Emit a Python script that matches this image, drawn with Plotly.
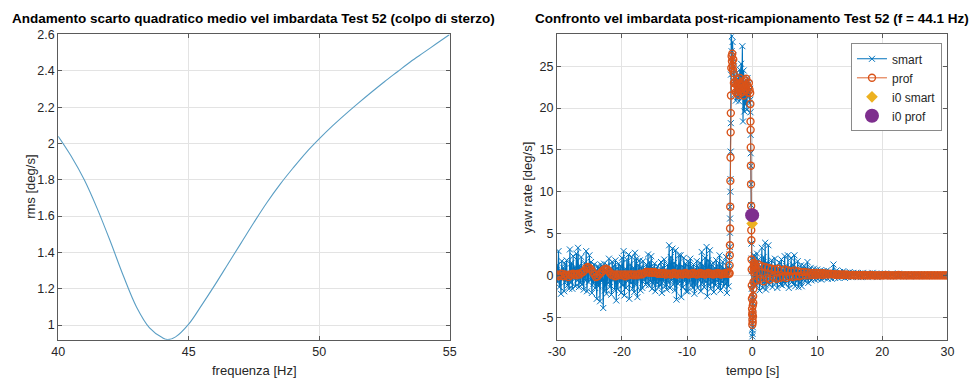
import numpy as np
import plotly.graph_objects as go

# ---------------- left plot data ----------------
freq_hz = [40, 40.5, 41, 41.5, 42, 42.5, 43, 43.5, 44, 44.2, 44.5, 45, 45.5, 46, 46.5,
           47, 47.5, 48, 48.5, 49, 49.5, 50, 50.5, 51, 51.5, 52, 52.5, 53, 53.5, 54, 54.5, 55]
rms_val = [2.04, 1.93, 1.80, 1.64, 1.46, 1.27, 1.10, 0.985, 0.93, 0.92, 0.935, 1.005, 1.11,
           1.22, 1.335, 1.45, 1.565, 1.675, 1.775, 1.865, 1.95, 2.025, 2.095, 2.16, 2.222, 2.282,
           2.34, 2.395, 2.45, 2.50, 2.55, 2.60]

# ---------------- right plot data ----------------
# smart, segment A: t = -30 ... -3.5 (step 0.125 s)
smartA_start, smartA_step = -30.0, 0.125
smart_A = [1.2, -0.8, 2.9, -1.4, 0.6, -2.2, 1.7, -0.5,
           0.9, -1.9, 1.4, -0.7, 1.8, -1.2, 0.4, -1.6,
           3.1, -0.9, 1.5, -1.6, 2.3, -0.4, 1.0, -1.3,
           2.6, -0.6, 3.3, -1.4, 1.2, -0.9, 2.2, -1.1,
           0.8, -1.7, 1.5, -0.6, 2.9, -1.9, 1.1, -0.8,
           2.4, -0.5, 1.6, -2.1, 0.7, -1.0, 1.3, -1.5,
           0.6, -2.8, 1.1, -1.3, 0.9, -3.1, 1.3, -0.7,
           0.7, -3.9, 1.4, -1.8, 0.5, -2.2, 1.2, -0.9,
           2.0, -1.4, 0.8, -2.3, 1.6, -0.6, 1.1, -1.7,
           1.8, -3.0, 0.9, -1.6, 1.4, -0.8, 1.1, -2.1,
           2.1, -1.2, 2.9, -2.4, 0.8, -1.5, 1.9, -0.7,
           2.5, -2.8, 1.3, -0.9, 2.2, -1.6, 0.9, -2.0,
           2.7, -1.1, 2.0, -2.6, 1.2, -0.5, 1.8, -1.8,
           1.0, -1.5, 1.7, -0.6, 0.8, -1.1, 1.3, -0.9,
           2.5, -1.2, 1.6, -0.7, 2.3, -1.6, 0.9, -1.0,
           1.4, -1.9, 0.8, -0.9, 1.1, -1.4, 0.6, -1.2,
           1.6, -2.1, 1.0, -0.7, 1.9, -1.3, 0.7, -1.7,
           1.3, -0.8, 3.6, -1.5, 2.2, -0.6, 3.2, -1.1,
           1.5, -1.8, 3.0, -2.9, 1.2, -1.0, 2.4, -0.8,
           2.4, -2.6, 1.1, -1.4, 2.1, -0.7, 1.4, -1.9,
           1.2, -1.9, 1.6, -0.8, 2.0, -1.2, 0.9, -1.5,
           1.3, -2.2, 0.8, -1.1, 1.7, -1.5, 1.0, -0.6,
           1.5, -1.9, 2.8, -0.9, 1.2, -1.4, 2.1, -0.8,
           3.4, -2.5, 1.8, -1.1, 3.0, -1.6, 1.3, -0.9,
           1.5, -2.0, 0.9, -1.2, 1.8, -0.7, 1.2, -1.4,
           2.4, -1.8, 1.1, -0.8, 1.6, -1.3, 0.8, -1.0,
           2.2, -2.1, 1.0, -1.3, 1.5]
# prof, segment A: t = -30 ... -3.5 (step 0.25 s)
profA_start, profA_step = -30.0, 0.25
prof_A = [0.1, -0.1, 0.0, 0.2, -0.1, 0.1, 0.0, -0.2, 0.1, 0.0, 0.2, 0.1, 0.0, 0.2, 0.1, 0.3,
          0.4, 0.6, 0.9, 1.0, 0.9, 0.7, 0.4, 0.1, -0.2, -0.1, 0.1, 0.3, 0.5, 0.7, 0.8, 0.7,
          0.5, 0.2, 0.0, 0.1, -0.1, 0.1, 0.0, 0.1, 0.0, 0.1, -0.1, 0.1, 0.0, 0.1, 0.1, 0.0,
          0.1, 0.0, 0.1, 0.2, 0.1, 0.2, 0.3, 0.4, 0.4, 0.3, 0.4, 0.3, 0.4, 0.3, 0.2, 0.3,
          0.2, 0.2, 0.3, 0.1, 0.2, 0.2, 0.1, 0.2, 0.3, 0.2, 0.1, 0.2, 0.2, 0.1, 0.2, 0.3,
          0.2, 0.1, 0.2, 0.2, 0.3, 0.2, 0.1, 0.2, 0.3, 0.2, 0.2, 0.1, 0.2, 0.3, 0.2, 0.2,
          0.1, 0.2, 0.2, 0.3, 0.2, 0.1, 0.2, 0.2, 0.3, 0.2, 0.2]

# segment B: steering manoeuvre (explicit sample times, shared)
t_B = [-3.48, -3.457, -3.434, -3.411, -3.388, -3.365, -3.342, -3.319, -3.296, -3.273, -3.25,
       -3.2, -3.15, -3.1, -3.05, -3.0, -2.95, -2.9, -2.85, -2.8,
       -2.7, -2.6, -2.5, -2.4, -2.3, -2.2, -2.1, -2.0, -1.9, -1.8, -1.7, -1.6, -1.5, -1.4,
       -1.3, -1.2, -1.1, -1.0, -0.9, -0.8, -0.7, -0.6, -0.5, -0.4, -0.3,
       -0.27, -0.25, -0.23, -0.21, -0.19, -0.17, -0.15, -0.13, -0.11, -0.09, -0.07, -0.05,
       -0.03, -0.01, 0.01, 0.03, 0.05, 0.07, 0.09, 0.11, 0.13, 0.15, 0.17, 0.19, 0.21, 0.23,
       0.25, 0.27, 0.3, 0.35, 0.4, 0.45]
smart_B = [0.8, 2.5, 3.4, 5.1, 6.8, 8.2, 10.0, 11.5, 14.8, 18.2, 24.0,
           29.5, 26.8, 28.6, 25.4, 27.9, 24.1, 26.3, 23.2, 25.0,
           21.6, 23.8, 20.9, 24.2, 22.5, 21.3, 23.9, 20.8, 24.6, 22.1, 25.3, 21.2, 27.4, 18.4,
           24.5, 19.6, 23.1, 20.4, 22.8, 19.8, 23.6, 21.4, 22.9, 20.6, 22.3,
           21.0, 19.5, 16.8, 14.6, 13.1, 10.9, 8.4, 6.3, 3.8, 2.0, 0.5, -1.6, -3.2, -4.8,
           -6.5, -7.3, -5.8, -7.0, -4.6, -6.2, -3.8, -5.1, -2.6, -1.1, -0.3, 1.2, 2.4, 0.6,
           1.8, -0.9, 2.3, -1.3]
prof_B = [0.3, 1.2, 2.4, 3.6, 5.6, 8.2, 11.3, 14.1, 17.1, 19.4, 21.5,
          24.8, 26.2, 25.6, 26.5, 25.1, 24.6, 25.8, 24.2, 23.0,
          22.4, 23.1, 21.9, 22.8, 23.4, 22.1, 21.6, 22.9, 23.6, 22.3, 21.8, 22.7, 23.2, 22.0,
          21.5, 22.6, 23.3, 22.2, 23.5, 22.8, 21.9, 22.5, 23.0, 22.2, 21.8,
          20.5, 18.4, 17.4, 15.3, 13.1, 10.9, 8.3, 5.4, 4.2, 1.9, 0.7, -1.2, -2.8, -4.0,
          -4.7, -5.9, -5.3, -4.4, -5.6, -3.6, -4.9, -2.5, -3.3, -1.6, -0.8, 0.4, 1.1, 1.5,
          0.9, 1.4, 0.6, 1.2]

# smart, segment C: t = 0.5 ... 12.0 (step 0.125 s)
smartC_start, smartC_step = 0.5, 0.125
smart_C = [1.4, -1.2, 2.6, -0.8, 1.9, -1.8, 1.1, -0.6,
           3.3, -1.5, 2.2, -1.0, 3.9, -1.7, 1.5, -0.9,
           3.6, -1.1, 1.3, -0.7, 1.8, -1.4, 0.9, -0.5,
           2.0, -0.9, 1.2, -1.5, 0.8, -0.6, 1.5, -1.1,
           1.9, -1.2, 0.7, -0.8, 2.3, -1.0, 1.1, -0.5,
           2.4, -1.5, 1.0, -0.6, 2.1, -0.8, 1.3, -1.1,
           2.4, -1.3, 0.9, -0.7, 1.7, -1.4, 0.6, -0.9,
           1.2, -1.3, 0.8, -0.5, 1.1, -0.7, 0.6, -0.4,
           1.6, -0.9, 0.7, -0.4, 0.9, -0.6, 0.5, -0.3,
           0.8, -0.5, 0.4, -0.3, 0.7, -0.4, 0.3, -0.2,
           0.6, -0.5, 0.3, -0.2, 0.5, -0.3, 0.4, -0.2,
           0.6, -0.4, 0.3, -0.2, 0.4]
# prof, segment C: t = 0.5 ... 12.0 (step 0.25 s)
profC_start, profC_step = 0.5, 0.25
prof_C = [1.2, -0.6, 1.3, -0.4, 1.1, -0.7, 1.0, -0.3, 0.9, -0.5, 0.8, -0.2, 0.7, -0.4, 0.8,
          -0.3, 0.6, -0.2, 0.7, -0.3, 0.6, -0.1, 0.5, -0.2, 0.6, -0.1, 0.5, -0.1, 0.4, 0.0,
          0.4, 0.0, 0.35, 0.0, 0.3, 0.05, 0.3, 0.05, 0.3, 0.1, 0.25, 0.05, 0.25, 0.1, 0.2,
          0.1, 0.2]

# segment D: t = 12.25 ... 30 (step 0.25 s)
segD_start, segD_step = 12.25, 0.25
smart_D = [-0.4, 1.3, -0.3, 0.6, -0.3, 0.4, -0.2, 0.5, -0.3, 0.3, -0.2, 0.4, -0.2, 0.3, -0.1,
           0.3, -0.2, 0.2, -0.2, 0.3, -0.1, 0.2, -0.2, 0.2, -0.1, 0.3, -0.1, 0.2, -0.2, 0.2,
           -0.1, 0.2, -0.1, 0.2, -0.1, 0.1, -0.1, 0.2, -0.1, 0.1, -0.1, 0.2, -0.1, 0.1, -0.1,
           0.1, 0.0, 0.1, -0.1, 0.1, 0.0, 0.1, -0.1, 0.1, 0.0, 0.1, 0.0, 0.1, -0.1, 0.1, 0.0,
           0.1, 0.0, 0.1, 0.0, 0.1, 0.0, 0.1, 0.0, 0.0, 0.1, 0.0]
prof_D = [0.15, 0.1, 0.15, 0.05, 0.1, 0.1, 0.05, 0.1, 0.05, 0.1, 0.05, 0.0, 0.05, 0.05, 0.0,
          0.05, 0.0, 0.05, 0.0, 0.0, 0.05, 0.0, 0.0, 0.0, 0.05, 0.0, 0.0, 0.0, 0.0, 0.0,
          0.0, 0.0, 0.0, 0.05, 0.0, 0.0, 0.0, 0.0, 0.0, 0.0, 0.0, 0.05, 0.0, 0.0, 0.0,
          0.0, 0.0, 0.0, 0.0, 0.0, 0.0, 0.0, 0.0, 0.0, 0.0, 0.0, 0.0, 0.0, 0.0, 0.0, 0.0,
          0.0, 0.0, 0.0, 0.0, 0.0, 0.0, 0.0, 0.0, 0.0, 0.0, 0.0]

# i0 points
i0_t = [0.0]
i0_smart = [6.2]
i0_prof = [7.2]

# tick labels
left_xticks = [40, 45, 50, 55]
left_yticks = [1, 1.2, 1.4, 1.6, 1.8, 2, 2.2, 2.4, 2.6]
right_xticks = [-30, -20, -10, 0, 10, 20, 30]
right_xticktext = ["-30", "-20", "-10", "0", "10", "20", "30"]
right_yticks = [-5, 0, 5, 10, 15, 20, 25]
right_yticktext = ["-5", "0", "5", "10", "15", "20", "25"]

# ---------------- assemble ----------------
def seg_time(start, step, vals):
    return list(start + step * np.arange(len(vals)))

t_smart = (seg_time(smartA_start, smartA_step, smart_A) + t_B +
           seg_time(smartC_start, smartC_step, smart_C) + seg_time(segD_start, segD_step, smart_D))
smart_all = smart_A + smart_B + smart_C + smart_D
t_prof = (seg_time(profA_start, profA_step, prof_A) + t_B +
          seg_time(profC_start, profC_step, prof_C) + seg_time(segD_start, segD_step, prof_D))
prof_all = prof_A + prof_B + prof_C + prof_D

W, H = 977, 383
FONT = "Liberation Sans, Arial, sans-serif"
BLUE = "#0072BD"
ORANGE = "#D95319"

fig = go.Figure()
fig.add_trace(go.Scatter(x=freq_hz, y=rms_val, mode="lines",
                         line=dict(color="#5a9ec4", width=1.1, shape="spline", smoothing=1.0),
                         xaxis="x", yaxis="y", showlegend=False))

fig.add_trace(go.Scatter(x=t_smart, y=smart_all, mode="lines+markers", name="smart",
                         line=dict(color=BLUE, width=1.1),
                         marker=dict(symbol="x-thin", size=6, color=BLUE, line=dict(color=BLUE, width=1)),
                         xaxis="x2", yaxis="y2"))
fig.add_trace(go.Scatter(x=t_prof, y=prof_all, mode="lines+markers", name="prof",
                         line=dict(color=ORANGE, width=0.9),
                         marker=dict(symbol="circle-open", size=7, color=ORANGE, line=dict(color=ORANGE, width=1.4)),
                         xaxis="x2", yaxis="y2"))
fig.add_trace(go.Scatter(x=i0_t, y=i0_smart, mode="markers", name="i0 smart",
                         marker=dict(symbol="diamond", size=9, color="#EDB120"),
                         xaxis="x2", yaxis="y2"))
fig.add_trace(go.Scatter(x=i0_t, y=i0_prof, mode="markers", name="i0 prof",
                         marker=dict(symbol="circle", size=14, color="#7E2F8E"),
                         xaxis="x2", yaxis="y2"))

ydom = [1 - 339 / H, 1 - 28 / H]
axis_common = dict(showline=True, linecolor="#5a5a5a", linewidth=1, mirror="ticks", ticks="inside",
                   ticklen=4, tickcolor="#5a5a5a", showgrid=True, gridcolor="#e3e3e3", gridwidth=1,
                   zeroline=False, tickfont=dict(family=FONT, size=12.5, color="#262626"))

fig.update_layout(
    width=W, height=H, margin=dict(l=0, r=0, t=0, b=0),
    paper_bgcolor="white", plot_bgcolor="white",
    xaxis=dict(domain=[50 / W, 448 / W], range=[40, 55], tickvals=left_xticks, anchor="y", **axis_common),
    yaxis=dict(domain=ydom, range=[0.919, 2.6], tickvals=left_yticks, anchor="x", **axis_common),
    xaxis2=dict(domain=[557 / W, 954 / W], range=[-30, 30], tickvals=right_xticks, ticktext=right_xticktext,
                anchor="y2", **axis_common),
    yaxis2=dict(domain=ydom, range=[-7.7, 28.8], tickvals=right_yticks, ticktext=right_yticktext,
                anchor="x2", **axis_common),
    legend=dict(x=856 / W, y=1 - 37 / H, xanchor="left", yanchor="top", bgcolor="white",
                bordercolor="#8a8a8a", borderwidth=1, font=dict(family=FONT, size=12, color="#262626"),
                tracegroupgap=0),
    showlegend=True,
)

annots = [
    dict(text="<b>Andamento scarto quadratico medio vel imbardata Test 52 (colpo di sterzo)</b>",
         x=249 / W, y=1 - 12 / H, font=dict(size=13.5, color="black")),
    dict(text="<b>Confronto vel imbardata post-ricampionamento Test 52 (f = 44.1 Hz)</b>",
         x=755.5 / W, y=1 - 12 / H, font=dict(size=13.5, color="black")),
    dict(text="frequenza [Hz]", x=250 / W, y=1 - 370 / H, font=dict(size=13, color="#262626")),
    dict(text="tempo [s]", x=756 / W, y=1 - 370 / H, font=dict(size=13, color="#262626")),
    dict(text="rms [deg/s]", x=22 / W, y=1 - 183.5 / H, textangle=-90, font=dict(size=13, color="#262626")),
    dict(text="yaw rate [deg/s]", x=527 / W, y=1 - 183.5 / H, textangle=-90, font=dict(size=13, color="#262626")),
]
for a in annots:
    a["font"]["family"] = FONT
    fig.add_annotation(xref="paper", yref="paper", xanchor="center", yanchor="middle", showarrow=False, **a)

fig.write_html("out.html")
